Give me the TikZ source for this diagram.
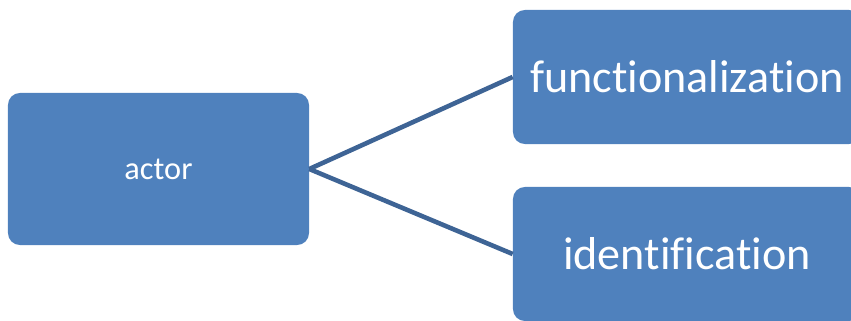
\documentclass[tikz,border=0pt]{standalone}
\usepackage{fontspec}
\setmainfont{Carlito}[Ligatures=NoCommon]
\usepackage{tikz}
\definecolor{boxblue}{HTML}{4F81BD}
\definecolor{lineblue}{HTML}{3E6495}
\tikzset{every node/.style={shape=rectangle,rounded corners=0.3cm,inner sep=0pt,fill=boxblue,text=white}}

\begin{document}
\begin{tikzpicture}[x=0.025cm,y=-0.025cm]

\useasboundingbox (0,0) rectangle (851,321);
\clip (0,0) rectangle (851,321);

\tikzstyle{small}=[minimum width=7.525cm,minimum height=3.8cm,font=\fontsize{23}{26}\selectfont]
\tikzstyle{big}=[minimum width=8.7cm,minimum height=3.35cm,font=\fontsize{32.8}{36}\selectfont]
\tikzstyle{l}=[line width=0.115cm,lineblue]

\node[small] (actor) at (158.5,169) {actor};
\node[big] (func) at (687,77) {functionalization};
\node[big] (ident) at (687,254) {identification};

% actor splits into two
\foreach \y in {func,ident}
  \draw[l] (actor.east) -- (\y.west);

\end{tikzpicture}
\end{document}
